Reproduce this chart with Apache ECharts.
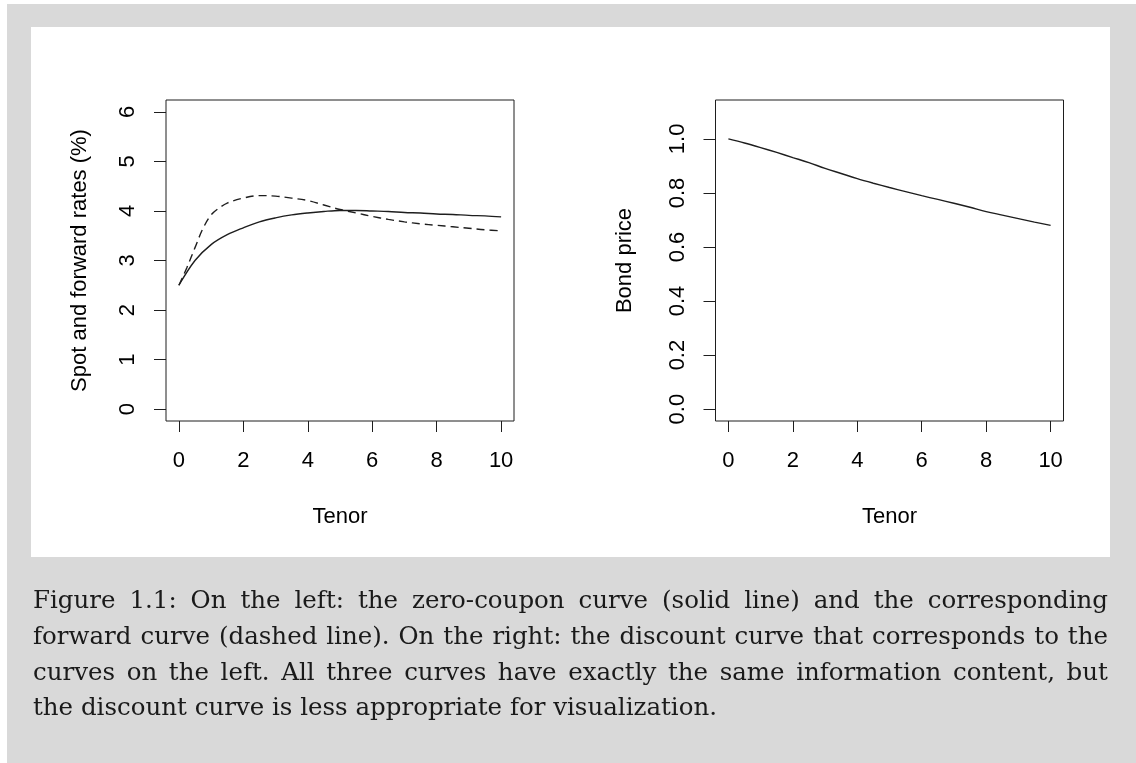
<!DOCTYPE html>
<html>
<head>
<meta charset="utf-8">
<script src="https://cdn.jsdelivr.net/npm/echarts@6/dist/echarts.min.js"></script>
<style>
  html, body { margin: 0; padding: 0; background: #ffffff; }
  #page { position: absolute; left: 7px; top: 4px; width: 1129px; height: 759px; background: #d9d9d9; }
  #panel { position: absolute; left: 31px; top: 27px; width: 1079px; height: 530px; background: #ffffff; }
  #chart { position: absolute; left: 0; top: 0; width: 1136px; height: 763px; }
  #caption {
    position: absolute; left: 33px; top: 582px; width: 1075px;
    font-family: "DejaVu Serif", serif; font-size: 24.5px; line-height: 35.8px; color: #1a1a1a;
  }
  #caption .row { display: flex; justify-content: space-between; white-space: nowrap; }
  #caption .row.last { justify-content: flex-start; }
</style>
</head>
<body>
<div id="page"></div>
<div id="panel"></div>
<div id="chart"></div>
<div id="caption"></div>
<script>
// Zero-coupon (spot) curve, % per year
const spotTenor = [0, 0.5, 1, 1.5, 2, 2.5, 3, 3.5, 4, 4.5, 5, 5.5, 6, 6.5, 7, 7.5, 8, 8.5, 9, 9.5, 10];
const spotRates = [2.50, 3.00, 3.32, 3.52, 3.66, 3.78, 3.86, 3.92, 3.96, 3.99, 4.01, 4.01, 4.00, 3.99, 3.97, 3.96, 3.94, 3.93, 3.91, 3.90, 3.88];

// Instantaneous forward curve, % per year
const fwdTenor = [0, 0.25, 0.5, 0.75, 1, 1.25, 1.5, 2, 2.5, 3, 3.5, 4, 4.5, 5, 5.5, 6, 6.5, 7, 7.5, 8, 8.5, 9, 9.5, 10];
const fwdRates = [2.50, 2.86, 3.26, 3.65, 3.92, 4.06, 4.16, 4.26, 4.31, 4.30, 4.26, 4.21, 4.12, 4.03, 3.96, 3.89, 3.83, 3.78, 3.74, 3.71, 3.68, 3.65, 3.62, 3.60];

// Discount curve (zero-coupon bond prices)
const priceTenor = [0, 0.5, 1, 1.5, 2, 2.5, 3, 3.5, 4, 4.5, 5, 5.5, 6, 6.5, 7, 7.5, 8, 8.5, 9, 9.5, 10];
const bondPrices = [1.000, 0.985, 0.968, 0.950, 0.931, 0.912, 0.891, 0.872, 0.853, 0.836, 0.820, 0.805, 0.790, 0.776, 0.762, 0.747, 0.731, 0.718, 0.705, 0.692, 0.680];

// Tick positions
const tenorTicks = [0, 2, 4, 6, 8, 10];
const rateTicks = [0, 1, 2, 3, 4, 5, 6];
const priceTicks = [0, 0.2, 0.4, 0.6, 0.8, 1.0];

// Axis titles
const xTitle = 'Tenor';
const rateTitle = 'Spot and forward rates (%)';
const priceTitle = 'Bond price';

// Caption, one entry per typeset line
const captionLines = [
  'Figure 1.1: On the left: the zero-coupon curve (solid line) and the corresponding',
  'forward curve (dashed line). On the right: the discount curve that corresponds to the',
  'curves on the left. All three curves have exactly the same information content, but',
  'the discount curve is less appropriate for visualization.'
];

const FONT = '"Liberation Sans", Arial, sans-serif';
const INK = '#1e1e1e';

function zip(xs, ys) { return xs.map((x, i) => [x, ys[i]]); }

function xAxis(gridIndex) {
  return {
    type: 'value', gridIndex, min: -0.4, max: 10.4,
    name: xTitle, nameLocation: 'middle', nameGap: 85,
    nameTextStyle: { fontFamily: FONT, fontSize: 22, color: '#000' },
    axisLine: { show: false, onZero: false },
    splitLine: { show: false },
    axisTick: { show: true, customValues: tenorTicks, length: 11, lineStyle: { color: INK, width: 1 } },
    axisLabel: { customValues: tenorTicks, margin: 29, fontFamily: FONT, fontSize: 22, color: '#000' }
  };
}

function yAxis(gridIndex, min, max, ticks, title, gap, fmt) {
  return {
    type: 'value', gridIndex, min, max,
    name: title, nameLocation: 'middle', nameGap: gap,
    nameTextStyle: { fontFamily: FONT, fontSize: 22, color: '#000' },
    axisLine: { show: false, onZero: false },
    splitLine: { show: false },
    axisTick: { show: true, customValues: ticks, length: 12, lineStyle: { color: INK, width: 1 } },
    axisLabel: { customValues: ticks, rotate: 90, margin: 27, fontFamily: FONT, fontSize: 22, color: '#000', formatter: fmt }
  };
}

const frame = { show: true, borderColor: INK, borderWidth: 1, backgroundColor: 'transparent', outerBoundsMode: 'none', containLabel: false };

const chart = echarts.init(document.getElementById('chart'), null, { renderer: 'canvas' });
chart.setOption({
  animation: false,
  backgroundColor: 'transparent',
  grid: [
    Object.assign({ left: 166, top: 100, width: 348, height: 321 }, frame),
    Object.assign({ left: 715.5, top: 100, width: 348, height: 321 }, frame)
  ],
  xAxis: [xAxis(0), xAxis(1)],
  yAxis: [
    yAxis(0, -0.24, 6.24, rateTicks, rateTitle, 75, v => String(v)),
    yAxis(1, -0.044, 1.144, priceTicks, priceTitle, 80, v => v.toFixed(1))
  ],
  series: [
    {
      name: 'Spot', type: 'line', xAxisIndex: 0, yAxisIndex: 0,
      data: zip(spotTenor, spotRates), showSymbol: false, smooth: 0.35,
      lineStyle: { color: INK, width: 1.4 }
    },
    {
      name: 'Forward', type: 'line', xAxisIndex: 0, yAxisIndex: 0,
      data: zip(fwdTenor, fwdRates), showSymbol: false, smooth: 0.35,
      lineStyle: { color: INK, width: 1.4, type: [8, 5] }
    },
    {
      name: 'Bond price', type: 'line', xAxisIndex: 1, yAxisIndex: 1,
      data: zip(priceTenor, bondPrices), showSymbol: false, smooth: 0.35,
      lineStyle: { color: INK, width: 1.4 }
    }
  ]
});

// Justified caption: each line spreads its words across the full width
const cap = document.getElementById('caption');
captionLines.forEach((line, i) => {
  const row = document.createElement('div');
  const last = i === captionLines.length - 1;
  row.className = last ? 'row last' : 'row';
  if (last) {
    row.textContent = line;
  } else {
    line.split(' ').forEach(w => {
      const s = document.createElement('span');
      s.textContent = w;
      row.appendChild(s);
    });
  }
  cap.appendChild(row);
});
</script>
</body>
</html>
